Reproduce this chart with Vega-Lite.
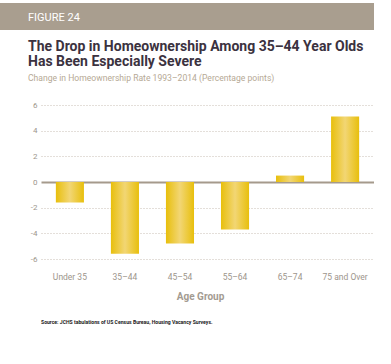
{
  "$schema": "https://vega.github.io/schema/vega-lite/v6.json",
  "padding": {"left": 0, "top": 3, "right": 0, "bottom": 0},
  "background": "white",
  "spacing": 10,
  "config": {"view": {"stroke": null}},
  "title": {
    "text": "Source: JCHS tabulations of US Census Bureau, Housing Vacancy Surveys.",
    "orient": "bottom",
    "anchor": "start",
    "frame": "group",
    "dx": 41,
    "offset": 18,
    "font": "Roboto",
    "fontSize": 5.1,
    "fontWeight": "bold",
    "color": "#1a1a1a"
  },
  "vconcat": [
    {
      "width": 374,
      "height": 27,
      "view": {"fill": "#a99e8f", "stroke": null},
      "data": {"values": [{"label": "FIGURE 24"}]},
      "mark": {
        "type": "text",
        "align": "left",
        "baseline": "middle",
        "dx": -159,
        "dy": 1,
        "color": "white",
        "font": "Roboto",
        "fontSize": 11
      },
      "encoding": {"text": {"field": "label"}}
    },
    {
      "width": 374,
      "height": 154,
      "title": {
        "text": ["The Drop in Homeownership Among 35–44 Year Olds", "Has Been Especially Severe"],
        "subtitle": "Change in Homeownership Rate 1993–2014 (Percentage points)",
        "anchor": "start",
        "frame": "group",
        "dx": 28,
        "offset": 18,
        "font": "Roboto",
        "fontSize": 14,
        "fontWeight": "bold",
        "color": "#3b3240",
        "lineHeight": 15,
        "subtitleFont": "Roboto",
        "subtitleFontSize": 8.6,
        "subtitleColor": "#b6a995",
        "subtitlePadding": 5
      },
      "data": {
        "values": [
          {"group": "Under 35", "change": -1.6},
          {"group": "35–44", "change": -5.6},
          {"group": "45–54", "change": -4.8},
          {"group": "55–64", "change": -3.7},
          {"group": "65–74", "change": 0.5},
          {"group": "75 and Over", "change": 5.1}
        ]
      },
      "mark": {
        "type": "bar",
        "color": {
          "gradient": "linear",
          "x1": 0, "x2": 1, "y1": 0, "y2": 0,
          "stops": [
            {"offset": 0, "color": "#e8bf0c"},
            {"offset": 0.5, "color": "#f2d674"},
            {"offset": 1, "color": "#e8bf0c"}
          ]
        }
      },
      "encoding": {
        "x": {
          "field": "group",
          "type": "nominal",
          "sort": null,
          "scale": {"range": [41, 374], "paddingInner": 0.49, "paddingOuter": 0.27},
          "axis": {
            "title": "Age Group",
            "titleX": 200,
            "labelAngle": 0,
            "ticks": false,
            "domain": false,
            "grid": false,
            "labelPadding": 13,
            "labelFont": "Roboto",
            "labelFontSize": 8.5,
            "labelColor": "#9d958c",
            "titleFont": "Roboto",
            "titleFontSize": 10,
            "titleFontWeight": "bold",
            "titleColor": "#a39b91",
            "titlePadding": 11
          }
        },
        "y": {
          "field": "change",
          "type": "quantitative",
          "scale": {"domain": [-6, 6], "nice": false},
          "axis": {
            "title": null,
            "offset": -41,
            "values": [-6, -4, -2, 0, 2, 4, 6],
            "tickCount": 7,
            "labelExpr": "'' + datum.value",
            "labelOverlap": false,
            "labelFlush": false,
            "ticks": false,
            "domain": false,
            "grid": true,
            "gridDash": {"condition": {"test": "datum.value === 0", "value": []}, "value": [1, 2]},
            "gridColor": {"condition": {"test": "datum.value === 0", "value": "#a59a8c"}, "value": "#c9c0b5"},
            "gridWidth": {"condition": {"test": "datum.value === 0", "value": 2}, "value": 1.2},
            "labelPadding": 4,
            "labelFont": "Roboto",
            "labelFontSize": 8,
            "labelColor": "#9d958c"
          }
        }
      }
    }
  ]
}
